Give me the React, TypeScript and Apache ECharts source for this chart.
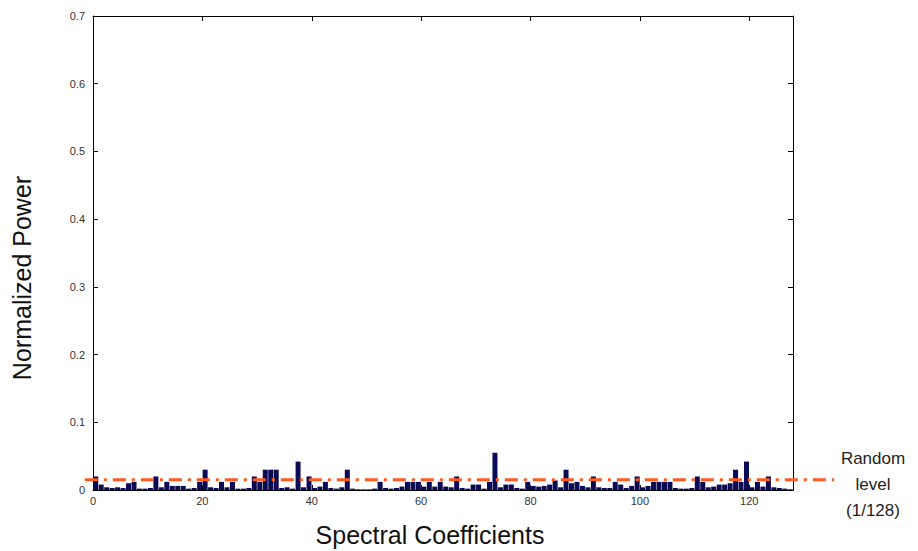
import React, { useEffect, useRef } from "react";
import * as echarts from "echarts";

const power: number[] = [
  0.020, 0.008, 0.004, 0.003, 0.004, 0.003, 0.010, 0.012, 0.002, 0.002,
  0.003, 0.020, 0.004, 0.012, 0.006, 0.006, 0.006, 0.002, 0.003, 0.012,
  0.030, 0.004, 0.003, 0.012, 0.004, 0.012, 0.002, 0.002, 0.003, 0.020,
  0.012, 0.030, 0.030, 0.030, 0.003, 0.004, 0.002, 0.042, 0.004, 0.020,
  0.003, 0.005, 0.012, 0.003, 0.002, 0.004, 0.030, 0.002, 0.001, 0.001,
  0.001, 0.002, 0.012, 0.003, 0.002, 0.003, 0.005, 0.012, 0.012, 0.012,
  0.005, 0.012, 0.005, 0.012, 0.005, 0.004, 0.020, 0.003, 0.002, 0.008,
  0.008, 0.002, 0.012, 0.055, 0.004, 0.008, 0.008, 0.003, 0.002, 0.012,
  0.006, 0.005, 0.006, 0.008, 0.014, 0.004, 0.030, 0.010, 0.012, 0.006,
  0.004, 0.020, 0.004, 0.003, 0.003, 0.012, 0.008, 0.003, 0.006, 0.020,
  0.004, 0.006, 0.012, 0.012, 0.012, 0.012, 0.003, 0.002, 0.002, 0.003,
  0.020, 0.012, 0.004, 0.005, 0.008, 0.008, 0.010, 0.030, 0.012, 0.042,
  0.004, 0.012, 0.005, 0.020, 0.004, 0.003, 0.002, 0.001,
];
const xTicks = [0, 20, 40, 60, 80, 100, 120];
const yTicks = [0, 0.1, 0.2, 0.3, 0.4, 0.5, 0.6, 0.7];
const randomLevel = 0.015; // plotted position of 1/128 level
const lineStartX = -1.5;
const lineEndX = 135.5;

export default function App() {
  const ref = useRef<HTMLDivElement>(null);
  useEffect(() => {
    if (!ref.current) return;
    const chart = echarts.init(ref.current, null, { renderer: "svg" });
    const font = "Liberation Sans, Arial, sans-serif";
    const axisBase = {
      axisLine: { show: true, onZero: false, lineStyle: { color: "#000", width: 1 } },
      axisTick: { show: true, inside: true, length: 5, lineStyle: { color: "#000" } },
      splitLine: { show: false },
    };
    chart.setOption({
      animation: false,
      backgroundColor: "#fff",
      grid: { left: 93, right: 125, top: 16, bottom: 61, containLabel: false },
      xAxis: [
        {
          type: "value", min: 0, max: 128, interval: 20, position: "bottom",
          ...axisBase,
          axisLabel: {
            color: "#333", fontSize: 11, fontFamily: font, margin: 5, showMaxLabel: false,
            formatter: (v: number) => (xTicks.includes(v) ? String(v) : ""),
          },
        },
        {
          type: "value", min: 0, max: 128, interval: 20, position: "top",
          ...axisBase, axisLabel: { show: false },
        },
      ],
      yAxis: [
        {
          type: "value", min: 0, max: 0.7, interval: 0.1, position: "left",
          ...axisBase,
          axisLabel: {
            color: "#333", fontSize: 11, fontFamily: font, margin: 8,
            formatter: (v: number) => (yTicks.includes(Math.round(v * 10) / 10) ? String(Math.round(v * 10) / 10) : ""),
          },
        },
        {
          type: "value", min: 0, max: 0.7, interval: 0.1, position: "right",
          ...axisBase, axisLabel: { show: false },
        },
      ],
      series: [
        {
          type: "bar",
          xAxisIndex: 0, yAxisIndex: 0,
          barWidth: 5,
          data: power.map((v, i) => [i + 0.5, v]),
          itemStyle: { color: "#0b0b55" },
        },
      ],
    });
    const p0 = chart.convertToPixel({ xAxisIndex: 0, yAxisIndex: 0 }, [lineStartX, randomLevel]) as number[];
    const p1 = chart.convertToPixel({ xAxisIndex: 0, yAxisIndex: 0 }, [lineEndX, randomLevel]) as number[];
    chart.setOption({
      graphic: [
        {
          type: "line",
          shape: { x1: p0[0], y1: p0[1], x2: p1[0], y2: p1[1] },
          style: { stroke: "#ff5a1f", lineWidth: 3, lineDash: [13, 6, 3, 6] },
          z: 10,
        },
        {
          type: "text",
          x: 873, y: 445,
          style: {
            text: "Random\nlevel\n(1/128)", fill: "#222", fontSize: 17, fontFamily: font,
            align: "center", verticalAlign: "top", lineHeight: 26,
          },
        },
        {
          type: "text",
          x: 430, y: 535,
          style: {
            text: "Spectral Coefficients", fill: "#111", fontSize: 25, fontFamily: font,
            align: "center", verticalAlign: "middle",
          },
        },
        {
          type: "text",
          x: 22, y: 278, rotation: Math.PI / 2,
          style: {
            text: "Normalized Power", fill: "#111", fontSize: 25, fontFamily: font,
            align: "center", verticalAlign: "middle",
          },
        },
      ],
    });
    return () => chart.dispose();
  }, []);
  return <div ref={ref} style={{ position: "fixed", left: 0, top: 0, width: 918, height: 551 }} />;
}
